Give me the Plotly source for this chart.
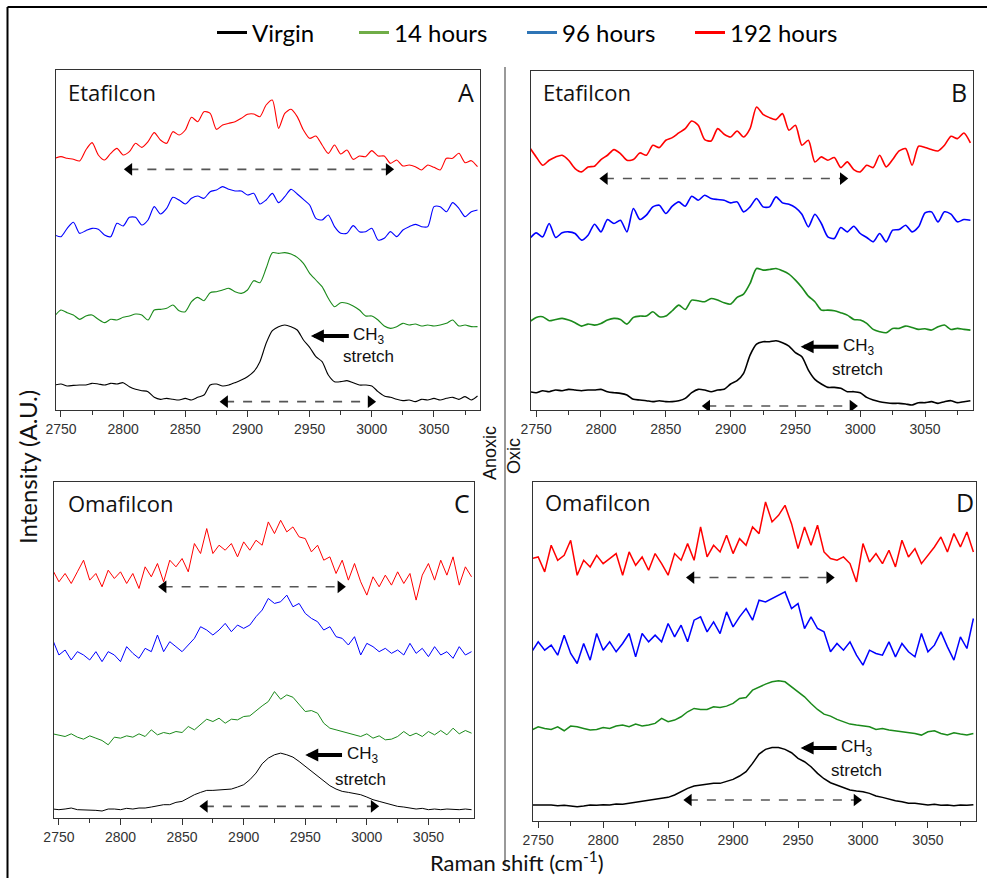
import plotly.graph_objects as go

# ---------------- data ----------------
WAVENUMBER = [2745, 2750, 2755, 2760, 2765, 2770, 2775, 2780, 2785, 2790,
              2795, 2800, 2805, 2810, 2815, 2820, 2825, 2830, 2835, 2840,
              2845, 2850, 2855, 2860, 2865, 2870, 2875, 2880, 2885, 2890,
              2895, 2900, 2905, 2910, 2915, 2920, 2925, 2930, 2935, 2940,
              2945, 2950, 2955, 2960, 2965, 2970, 2975, 2980, 2985, 2990,
              2995, 3000, 3005, 3010, 3015, 3020, 3025, 3030, 3035, 3040,
              3045, 3050, 3055, 3060, 3065, 3070, 3075, 3080, 3085]

SERIES_NAMES = ["Virgin", "14 hours", "96 hours", "192 hours"]

TICK_VALUES = [2750, 2800, 2850, 2900, 2950, 3000, 3050]
TICK_LABELS = ["2750", "2800", "2850", "2900", "2950", "3000", "3050"]

# Panel A - Etafilcon (anoxic)
A_VIRGIN = [75, 78, 72, 74, 75, 75, 80, 78, 75, 80,
            78, 82, 70, 62, 58, 55, 38, 32, 35, 32,
            30, 35, 30, 38, 45, 75, 78, 72, 75, 82,
            90, 100, 115, 145, 200, 238, 250, 255, 250, 240,
            210, 188, 160, 145, 105, 85, 85, 88, 82, 75,
            75, 72, 55, 42, 38, 32, 28, 30, 25, 32,
            30, 35, 30, 35, 38, 32, 40, 30, 42]
A_14H = [282, 300, 292, 285, 272, 282, 285, 272, 262, 272,
         270, 278, 282, 288, 285, 270, 300, 302, 305, 315,
         298, 295, 325, 338, 328, 352, 355, 360, 365, 355,
         350, 360, 388, 382, 425, 472, 470, 472, 468, 458,
         440, 410, 390, 370, 335, 310, 322, 320, 312, 300,
         282, 282, 270, 252, 245, 250, 260, 255, 258, 252,
         255, 252, 255, 260, 270, 252, 255, 250, 250]
A_96H = [525, 520, 545, 563, 530, 538, 545, 542, 525, 520,
         560, 552, 578, 578, 555, 570, 610, 588, 605, 638,
         630, 618, 635, 642, 635, 655, 660, 670, 662, 657,
         657, 645, 650, 618, 630, 650, 622, 640, 662, 648,
         632, 615, 575, 570, 585, 550, 530, 530, 553, 535,
         535, 545, 510, 515, 535, 520, 540, 550, 557, 550,
         550, 610, 610, 595, 622, 605, 580, 595, 600]
A_192H = [755, 760, 755, 752, 747, 780, 802, 765, 750, 770,
          785, 765, 775, 800, 788, 805, 832, 810, 800, 835,
          825, 840, 878, 865, 895, 890, 842, 855, 860, 865,
          875, 887, 888, 880, 915, 930, 845, 890, 902, 880,
          840, 815, 822, 795, 770, 795, 768, 780, 752, 762,
          760, 778, 762, 762, 740, 750, 732, 735, 730, 720,
          735, 728, 720, 755, 755, 770, 742, 748, 730]

# Panel B - Etafilcon (oxic)
B_VIRGIN = [55, 52, 58, 55, 60, 58, 62, 60, 58, 60,
            60, 62, 55, 52, 50, 45, 32, 30, 28, 25,
            28, 25, 25, 28, 35, 52, 62, 60, 55, 60,
            62, 78, 88, 110, 165, 198, 205, 205, 208, 202,
            192, 172, 160, 120, 92, 78, 68, 68, 65, 55,
            55, 52, 38, 30, 25, 22, 20, 20, 18, 15,
            22, 22, 25, 20, 25, 28, 22, 25, 28]
B_14H = [265, 278, 280, 268, 272, 275, 270, 262, 252, 258,
         255, 260, 270, 275, 272, 258, 278, 282, 282, 295,
         280, 282, 298, 315, 302, 330, 328, 325, 335, 330,
         322, 318, 338, 348, 380, 425, 420, 422, 425, 418,
         408, 390, 368, 342, 325, 300, 300, 298, 292, 285,
         272, 270, 260, 242, 235, 232, 245, 245, 252, 248,
         242, 244, 240, 250, 255, 242, 245, 242, 240]
B_96H = [515, 532, 520, 560, 518, 532, 535, 530, 510, 525,
         558, 535, 572, 560, 570, 535, 605, 572, 585, 610,
         615, 590, 612, 625, 612, 642, 630, 645, 635, 632,
         630, 622, 625, 595, 610, 635, 610, 610, 640, 622,
         618, 608, 588, 550, 588, 560, 520, 515, 548, 535,
         552, 530, 518, 505, 530, 505, 540, 542, 555, 535,
         550, 592, 595, 565, 595, 588, 565, 572, 570]
B_192H = [788, 760, 735, 750, 760, 765, 750, 725, 715, 730,
          732, 752, 765, 782, 770, 750, 752, 772, 765, 795,
          788, 810, 818, 832, 845, 868, 855, 812, 808, 845,
          828, 820, 838, 820, 845, 910, 888, 878, 872, 890,
          840, 855, 795, 810, 745, 760, 750, 758, 728, 745,
          722, 715, 735, 728, 765, 730, 752, 778, 785, 735,
          792, 788, 782, 778, 795, 822, 815, 832, 802]

# Panel C - Omafilcon (anoxic)
C_VIRGIN = [27, 25, 27, 30, 25, 25, 23, 23, 21, 27,
            27, 25, 29, 27, 30, 30, 33, 37, 40, 40,
            47, 50, 60, 70, 77, 83, 83, 85, 87, 87,
            93, 100, 115, 135, 163, 180, 190, 195, 190, 183,
            170, 155, 140, 127, 110, 97, 87, 80, 77, 73,
            70, 63, 55, 50, 45, 40, 35, 33, 30, 27,
            29, 25, 27, 25, 27, 25, 25, 27, 25]
C_14H = [253, 250, 245, 253, 243, 237, 247, 240, 233, 220,
         243, 240, 247, 243, 253, 245, 265, 250, 257, 253,
         260, 257, 275, 265, 280, 297, 290, 300, 285, 297,
         295, 305, 307, 323, 337, 350, 380, 357, 370, 363,
         340, 320, 323, 315, 285, 270, 265, 260, 253, 250,
         245, 253, 240, 247, 235, 237, 245, 260, 247, 255,
         245, 260, 250, 263, 250, 270, 253, 263, 255]
C_96H = [535, 490, 505, 475, 500, 490, 475, 500, 470, 500,
         490, 470, 515, 495, 480, 510, 500, 550, 500, 530,
         515, 500, 520, 540, 575, 565, 550, 565, 585, 560,
         580, 570, 580, 605, 625, 660, 645, 650, 670, 635,
         645, 615, 600, 590, 565, 575, 545, 540, 520, 545,
         490, 525, 515, 500, 510, 495, 505, 490, 525, 495,
         510, 485, 515, 490, 500, 480, 515, 490, 500]
C_192H = [745, 710, 735, 705, 740, 775, 715, 735, 695, 745,
          720, 740, 705, 735, 690, 755, 725, 765, 710, 775,
          755, 780, 740, 825, 795, 870, 795, 820, 805, 825,
          785, 830, 805, 835, 820, 890, 855, 895, 860, 875,
          845, 840, 800, 820, 775, 785, 735, 775, 715, 765,
          710, 670, 725, 695, 730, 700, 740, 705, 735, 655,
          730, 765, 715, 775, 730, 785, 700, 755, 725]

# Panel D - Omafilcon (oxic)
D_VIRGIN = [48, 48, 50, 48, 46, 47, 45, 43, 45, 48,
            47, 49, 48, 51, 50, 53, 55, 58, 61, 63,
            68, 71, 78, 88, 98, 105, 108, 111, 113, 113,
            118, 125, 135, 148, 173, 201, 215, 221, 221, 215,
            205, 188, 178, 163, 143, 127, 115, 108, 101, 93,
            90, 88, 83, 75, 71, 65, 61, 58, 53, 53,
            51, 48, 50, 47, 48, 46, 48, 47, 49]
D_14H = [273, 283, 278, 275, 283, 271, 285, 283, 278, 273,
         275, 281, 278, 285, 288, 283, 291, 285, 288, 293,
         308, 298, 303, 313, 328, 338, 335, 335, 343, 341,
         345, 353, 368, 371, 393, 403, 411, 418, 421, 418,
         403, 388, 373, 353, 335, 321, 315, 305, 298, 291,
         288, 285, 283, 275, 278, 273, 271, 268, 265, 263,
         258, 268, 271, 263, 258, 265, 261, 258, 263]
D_96H = [508, 538, 513, 528, 498, 558, 503, 473, 533, 483,
         563, 513, 538, 508, 533, 563, 493, 563, 538, 558,
         538, 593, 553, 588, 538, 603, 613, 568, 598, 563,
         628, 583, 613, 638, 603, 663, 658, 668, 678, 688,
         638, 653, 578, 613, 578, 568, 508, 533, 513, 538,
         498, 468, 513, 503, 498, 538, 493, 533, 508, 493,
         563, 508, 528, 568, 523, 483, 553, 518, 608]
D_192H = [788, 793, 748, 828, 783, 798, 843, 738, 783, 763,
          798, 773, 788, 803, 738, 808, 768, 793, 753, 803,
          773, 738, 803, 783, 833, 783, 883, 793, 828, 808,
          858, 803, 848, 828, 883, 863, 958, 898, 918, 948,
          893, 818, 883, 828, 888, 808, 788, 783, 793, 773,
          718, 833, 778, 803, 773, 813, 763, 843, 793, 818,
          773, 798, 823, 853, 808, 863, 823, 868, 808]

PANEL_SERIES = {
    "A": [A_VIRGIN, A_14H, A_96H, A_192H],
    "B": [B_VIRGIN, B_14H, B_96H, B_192H],
    "C": [C_VIRGIN, C_14H, C_96H, C_192H],
    "D": [D_VIRGIN, D_14H, D_96H, D_192H],
}
PANEL_MATERIAL = {"A": "Etafilcon", "B": "Etafilcon", "C": "Omafilcon", "D": "Omafilcon"}

# ---------------- styling / layout ----------------
W, H = 987, 878
LINE_COLORS = ["#000000", "#1b8a1b", "#0000ff", "#ff0000"]
LEGEND_COLORS = ["#000000", "#70ad47", "#2e75b6", "#ff0000"]


def px_x(p):
    return p / W


def px_y(p):
    return 1 - p / H


# pixel boxes of each panel: left, right, top, bottom ; y range ; line width ; line shape
PANEL_GEOM = {
    "A": dict(box=(56, 480, 70, 410), yr=[0, 1020], lw=1.1, shape="spline", ax="x", ay="y"),
    "B": dict(box=(531, 973, 71, 410), yr=[0, 1018], lw=1.6, shape="spline", ax="x2", ay="y2"),
    "C": dict(box=(54, 474, 482, 818), yr=[0, 1010], lw=1.0, shape="linear", ax="x3", ay="y3"),
    "D": dict(box=(533, 976, 482, 821), yr=[0, 1018], lw=1.5, shape="linear", ax="x4", ay="y4"),
}
X_RANGE = [2746, 3087]

# annotation positions (data coordinates of each panel)
ARROWS = {
    "A": dict(red=(2800, 3018.5, 722), blk=(2877, 3004, 25), ch=(2951, 2998, 222), st_txt=(2975, 160)),
    "B": dict(red=(2798, 2991.5, 695), blk=(2877, 2999, 12), ch=(2954, 2999, 190), st_txt=(2977, 122)),
    "C": dict(red=(2830, 2983.5, 695), blk=(2863.5, 3010.5, 35), ch=(2950, 2996.5, 189), st_txt=(2972.5, 117)),
    "D": dict(red=(2863, 2979, 731), blk=(2861, 3000, 63), ch=(2952, 2995.5, 219), st_txt=(2973.5, 153)),
}
HEAD_INSET = 5  # marker centre inset (x units) so the triangle tip sits on the arrow end

fig = go.Figure()

for key, series in PANEL_SERIES.items():
    g = PANEL_GEOM[key]
    for name, vals, col in zip(SERIES_NAMES, series, LINE_COLORS):
        fig.add_trace(go.Scatter(
            x=WAVENUMBER, y=vals, mode="lines", name=name,
            line=dict(color=col, width=g["lw"], shape=g["shape"], smoothing=0.7),
            xaxis=g["ax"], yaxis=g["ay"], showlegend=False, hoverinfo="skip",
        ))

# dashed double-headed range arrows
for key, a in ARROWS.items():
    g = PANEL_GEOM[key]
    for (x0, x1, yv) in (a["red"], a["blk"]):
        fig.add_trace(go.Scatter(
            x=[x0 + HEAD_INSET, x1 - HEAD_INSET], y=[yv, yv], mode="lines+markers",
            line=dict(color="#555", width=1.6, dash="dash"),
            marker=dict(symbol=["triangle-left", "triangle-right"], size=11, color="#000",
                        line=dict(width=0)),
            xaxis=g["ax"], yaxis=g["ay"], showlegend=False, hoverinfo="skip",
        ))

# legend entries (one legend per entry to match the spacing)
LEGEND_X_PX = [212, 354, 522, 690]
for i, (name, col) in enumerate(zip(SERIES_NAMES, LEGEND_COLORS)):
    lg = "legend" if i == 0 else f"legend{i + 1}"
    fig.add_trace(go.Scatter(
        x=[None], y=[None], mode="lines", name=name,
        line=dict(color=col, width=3), xaxis="x", yaxis="y",
        showlegend=True, legend=lg,
    ))

layout = dict(
    width=W, height=H, autosize=False,
    margin=dict(l=0, r=0, t=0, b=0, pad=0, autoexpand=False),
    paper_bgcolor="white", plot_bgcolor="white",
    showlegend=True,
)

for i, xp in enumerate(LEGEND_X_PX):
    lg = "legend" if i == 0 else f"legend{i + 1}"
    layout[lg] = dict(
        x=px_x(xp), y=px_y(33), xanchor="left", yanchor="middle",
        orientation="h", bgcolor="rgba(0,0,0,0)", borderwidth=0,
        font=dict(family="Lato", size=24, color="#000"),
        itemwidth=30,
    )

axis_common = dict(
    showgrid=False, zeroline=False, showline=True, mirror=True,
    linecolor="#333", linewidth=1.3, automargin=False,
)
for idx, key in enumerate(["A", "B", "C", "D"]):
    g = PANEL_GEOM[key]
    l, r, t, b = g["box"]
    sfx = "" if idx == 0 else str(idx + 1)
    layout["xaxis" + sfx] = dict(
        axis_common, domain=[px_x(l), px_x(r)], range=X_RANGE,
        anchor="y" + sfx, tickmode="array", tickvals=TICK_VALUES, ticktext=TICK_LABELS,
        ticks="outside", ticklen=6, tickwidth=1.3, tickcolor="#333",
        minor=dict(ticks="outside", ticklen=4, tickwidth=1, tickcolor="#333", dtick=25, tick0=2750),
        tickfont=dict(family="Liberation Sans", size=14, color="#333"),
    )
    layout["yaxis" + sfx] = dict(
        axis_common, domain=[px_y(b), px_y(t)], range=g["yr"],
        anchor="x" + sfx, showticklabels=False, ticks="",
    )

fig.update_layout(**layout)

annotations = []
shapes = []

# panel labels
LABEL_POS = {"A": (66, 466, 92), "B": (541, 959, 92), "C": (66, 462, 503), "D": (543, 965, 502)}
for key, (mx, lx, ly) in LABEL_POS.items():
    annotations.append(dict(text=PANEL_MATERIAL[key], x=px_x(mx), y=px_y(ly), xref="paper", yref="paper",
                            xanchor="left", yanchor="middle", showarrow=False,
                            font=dict(family="Open Sans", size=22, color="#111")))
    annotations.append(dict(text=key, x=px_x(lx), y=px_y(ly), xref="paper", yref="paper",
                            xanchor="center", yanchor="middle", showarrow=False,
                            font=dict(family="Open Sans", size=25, color="#111")))

# CH3 stretch arrows and labels
for key, a in ARROWS.items():
    g = PANEL_GEOM[key]
    xr, yr = g["ax"], g["ay"]
    tip, txt_x, yv = a["ch"]
    annotations.append(dict(x=tip, y=yv, xref=xr, yref=yr, ax=txt_x, ay=yv, axref=xr, ayref=yr,
                            text="CH<sub>3</sub>", showarrow=True, arrowhead=2, arrowsize=0.65,
                            arrowwidth=4, arrowcolor="#000", standoff=0, borderpad=4,
                            font=dict(family="Liberation Sans", size=17, color="#111")))
    sx, sy = a["st_txt"]
    annotations.append(dict(x=sx, y=sy, xref=xr, yref=yr, text="stretch", showarrow=False,
                            xanchor="left", yanchor="middle",
                            font=dict(family="Liberation Sans", size=17, color="#111")))

# axis titles and condition labels
annotations.append(dict(text="Intensity (A.U.)", x=px_x(27), y=px_y(467), xref="paper", yref="paper",
                        textangle=-90, showarrow=False, xanchor="center", yanchor="middle",
                        font=dict(family="Lato", size=24, color="#111")))
annotations.append(dict(text="Raman shift (cm<sup>-1</sup>)", x=px_x(517), y=px_y(877), xref="paper",
                        yref="paper", showarrow=False, xanchor="center", yanchor="bottom",
                        borderpad=0, font=dict(family="Lato", size=22, color="#111")))
annotations.append(dict(text="Anoxic", x=px_x(490), y=px_y(453), xref="paper", yref="paper",
                        textangle=-90, showarrow=False, xanchor="center", yanchor="middle",
                        font=dict(family="Liberation Sans", size=18, color="#111")))
annotations.append(dict(text="Oxic", x=px_x(514), y=px_y(456), xref="paper", yref="paper",
                        textangle=-90, showarrow=False, xanchor="center", yanchor="middle",
                        font=dict(family="Liberation Sans", size=18, color="#111")))

# frame lines and separator
shapes.append(dict(type="line", xref="paper", yref="paper", x0=px_x(7.5), x1=px_x(7.5),
                   y0=px_y(7), y1=0, line=dict(color="#000", width=2)))
shapes.append(dict(type="line", xref="paper", yref="paper", x0=px_x(7.5), x1=1,
                   y0=px_y(7), y1=px_y(7), line=dict(color="#000", width=2)))
shapes.append(dict(type="line", xref="paper", yref="paper", x0=px_x(505), x1=px_x(505),
                   y0=px_y(67), y1=px_y(866), line=dict(color="#999", width=2)))

fig.update_layout(annotations=annotations, shapes=shapes)
fig.write_html("out.html")
